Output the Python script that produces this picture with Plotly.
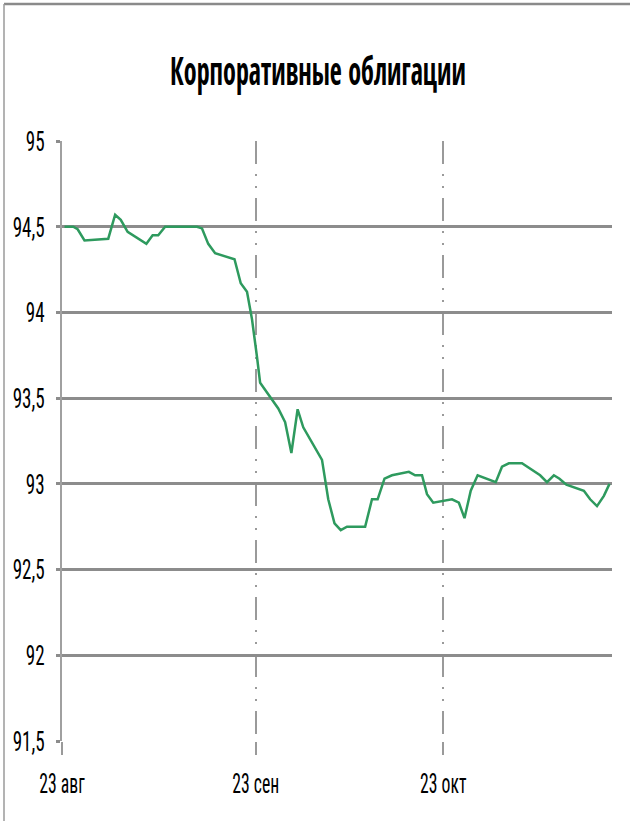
import datetime as dt
import json
import plotly.graph_objects as go

# ---- data ----
start_date = "2010-08-23"
day_offsets = [0.4, 1.8, 2.5, 3.6, 7.4, 8.5, 9.4, 10.5, 13.5, 14.5, 15.4, 16.5,
               21.6, 22.4, 23.4, 24.5, 27.6, 28.6, 29.6, 30.4, 31.2, 31.7,
               34.6, 35.7, 36.7, 37.7, 38.6, 41.6, 42.6, 43.6, 44.6, 45.6,
               48.5, 49.6, 50.5, 51.6, 52.8, 55.5, 56.5, 57.6, 58.4, 59.4,
               62.4, 63.5, 64.4, 65.4, 66.5, 69.4, 70.4, 71.5, 73.6, 76.5,
               77.6, 78.7, 79.6, 80.7, 83.5, 84.5, 85.6, 86.7, 87.6]
values = [94.50, 94.50, 94.485, 94.42, 94.43, 94.57, 94.54, 94.47, 94.40, 94.45, 94.45, 94.50,
          94.50, 94.49, 94.40, 94.345, 94.31, 94.17, 94.12, 93.96, 93.74, 93.59,
          93.44, 93.36, 93.18, 93.435, 93.33, 93.14, 92.91, 92.77, 92.73, 92.75,
          92.75, 92.91, 92.91, 93.03, 93.05, 93.07, 93.05, 93.05, 92.94, 92.89,
          92.91, 92.89, 92.80, 92.96, 93.05, 93.01, 93.10, 93.12, 93.12, 93.05,
          93.01, 93.05, 93.03, 92.995, 92.96, 92.91, 92.87, 92.93, 93.00]
tick_dates = ["2010-08-23", "2010-09-23", "2010-10-23"]
tick_labels = ["23 авг", "23 сен", "23 окт"]
x_end = "2010-11-19"
title_text = "Корпоративные облигации"

base = dt.datetime.fromisoformat(start_date)
xs = [base + dt.timedelta(days=d) for d in day_offsets]

TICK_FONT = "Roboto Condensed, Roboto, DejaVu Sans Condensed, sans-serif"
TITLE_FONT = "Open Sans Condensed, Roboto Condensed, DejaVu Sans Condensed, sans-serif"
GRID = "#8c8c8c"

fig = go.Figure()
fig.add_trace(go.Scatter(
    x=xs, y=values, mode="lines",
    line=dict(color="#2e9a5e", width=2.5),
    hoverinfo="skip", showlegend=False,
))

fig.update_layout(
    width=630, height=821,
    margin=dict(l=62, r=18, t=141, b=80, autoexpand=False),
    paper_bgcolor="white", plot_bgcolor="white",
    separators=", ",
    showlegend=False,
    title=dict(text=title_text, x=318 / 630, xanchor="center", xref="container",
               y=1 - 71 / 821, yanchor="middle", yref="container",
               font=dict(family=TITLE_FONT, size=39, color="black", weight="bold")),
    font=dict(family=TICK_FONT, color="black"),
)

fig.update_xaxes(
    type="date", automargin=False,
    range=[start_date, x_end],
    tickvals=tick_dates, ticktext=tick_labels,
    showgrid=True, gridcolor="#9a9a9a", gridwidth=1.5,
    griddash="23px,10px,2px,10px,2px,10px",
    ticks="outside", ticklen=13, tickcolor="#9a9a9a", tickwidth=1.5,
    ticklabelstandoff=4,
    tickfont=dict(family=TICK_FONT, size=28, color="black"),
    showline=False, zeroline=False,
)
fig.update_yaxes(
    automargin=False,
    range=[91.5, 95], dtick=0.5, tick0=91.5,
    showgrid=True, gridcolor=GRID, gridwidth=2.5,
    ticks="outside", ticklen=4, tickcolor=GRID, tickwidth=2.5,
    ticklabelstandoff=6,
    tickfont=dict(family=TICK_FONT, size=28, color="black"),
    showline=True, linecolor="#a0a0a0", linewidth=1.5,
    zeroline=False,
)

# outer chart border (top and left edges visible)
fig.add_shape(type="line", xref="paper", yref="paper",
              x0=(4 - 62) / 550, x1=(640 - 62) / 550,
              y0=1 + (141 - 4) / 600, y1=1 + (141 - 4) / 600,
              line=dict(color="#8a8a8a", width=2.5))
fig.add_shape(type="line", xref="paper", yref="paper",
              x0=(4 - 62) / 550, x1=(4 - 62) / 550,
              y0=1 + (141 - 4) / 600, y1=(741 - 830) / 600,
              line=dict(color="#9a9a9a", width=1.5))

# horizontally condense the text like the original (squeezed) chart
js = """
document.body.style.margin = '0';
var gd = document.getElementById('{plot_id}');
function squeeze(nodes, s) {
  nodes.forEach(function (t) {
    var X = parseFloat(t.getAttribute('x')) || 0;
    var tr = t.getAttribute('transform') || '';
    t.setAttribute('transform', tr + ' translate(' + X + ',0) scale(' + s + ',1) translate(' + (-X) + ',0)');
  });
}
function fit(sel, refText, target) {
  var nodes = Array.prototype.slice.call(gd.querySelectorAll(sel));
  if (!nodes.length) return;
  var ref = nodes.filter(function (n) { return n.textContent === refText; })[0] || nodes[0];
  var len = ref.getComputedTextLength();
  if (len > 0) squeeze(nodes, target / len);
}
fit('.ytick text', '94,5', 32);
fit('.xtick text', '23 сен', 47);
fit('.gtitle', TITLE, 296);
""".replace("TITLE", json.dumps(title_text))

fig.write_html("out.html", config={"displayModeBar": False}, post_script=js)
